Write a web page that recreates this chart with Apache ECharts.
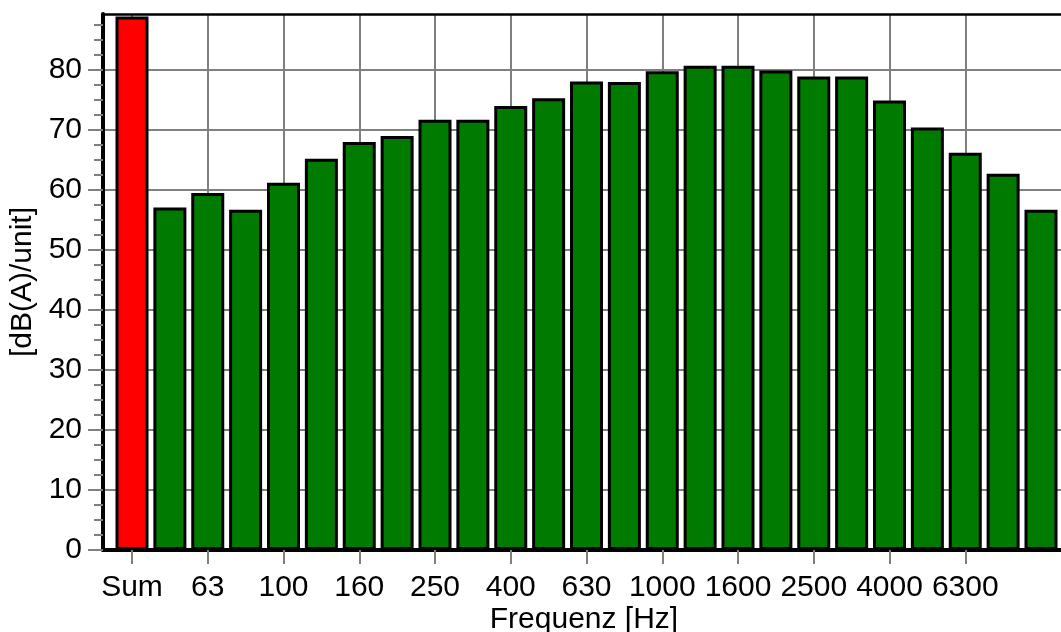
<!DOCTYPE html>
<html>
<head>
<meta charset="utf-8">
<script src="https://cdn.jsdelivr.net/npm/echarts@6/dist/echarts.min.js"></script>
<style>
html,body{margin:0;padding:0;background:#fff;}
#chart{width:1061px;height:632px;}
</style>
</head>
<body>
<div id="chart"></div>
<script>
const categories = ['Sum','50','63','80','100','125','160','200','250','315','400','500','630','800','1000','1250','1600','2000','2500','3150','4000','5000','6300','8000','10000'];
const values = [88.9, 57.1, 59.5, 56.7, 61.2, 65.2, 68.0, 69.0, 71.7, 71.7, 74.0, 75.3, 78.1, 78.0, 79.8, 80.7, 80.7, 79.9, 78.9, 78.9, 74.9, 70.4, 66.2, 62.7, 56.7];
const yTickValues = [0, 10, 20, 30, 40, 50, 60, 70, 80];
const yMax = 89.33;
const xAxisTitle = 'Frequenz [Hz]';
const yAxisTitle = '[dB(A)/unit]';

const FONT = "'Liberation Sans', Arial, sans-serif";
const GRID_COLOR = '#7f7f7f';
const showEveryOther = function (i) { return i % 2 === 0 && i < categories.length - 1; };

const chart = echarts.init(document.getElementById('chart'), null, {renderer: 'canvas'});
chart.setOption({
  animation: false,
  backgroundColor: '#ffffff',
  textStyle: {fontFamily: FONT},
  grid: [
    {left: 103, right: -4, top: 14, bottom: 82, containLabel: false, outerBoundsMode: 'none'},
    {left: 132, right: 20, top: 14, bottom: 82, containLabel: false, outerBoundsMode: 'none'}
  ],
  xAxis: [
    {
      gridIndex: 0, type: 'value', min: 0, max: 1, position: 'bottom',
      axisLine: {show: true, lineStyle: {color: '#000', width: 4}},
      axisTick: {show: false}, axisLabel: {show: false}, splitLine: {show: false},
      name: xAxisTitle, nameLocation: 'middle', nameGap: 55,
      nameTextStyle: {fontSize: 30, color: '#000', fontFamily: FONT}
    },
    {
      gridIndex: 0, type: 'value', min: 0, max: 1, position: 'top',
      axisLine: {show: true, lineStyle: {color: '#000', width: 2.5}},
      axisTick: {show: false}, axisLabel: {show: false}, splitLine: {show: false}
    },
    {
      gridIndex: 1, type: 'category', data: categories, boundaryGap: false, position: 'bottom',
      axisLine: {show: false},
      axisTick: {show: true, interval: showEveryOther, length: 14, lineStyle: {color: GRID_COLOR, width: 2}},
      axisLabel: {show: true, interval: showEveryOther, fontSize: 30, color: '#000', fontFamily: FONT, margin: 23, hideOverlap: false},
      splitLine: {show: true, interval: showEveryOther, lineStyle: {color: GRID_COLOR, width: 2}}
    }
  ],
  yAxis: [
    {
      gridIndex: 0, type: 'value', min: 0, max: yMax, interval: 10,
      axisLine: {show: true, lineStyle: {color: '#000', width: 4}},
      axisTick: {show: true, length: 15, customValues: yTickValues, lineStyle: {color: GRID_COLOR, width: 2}},
      minorTick: {show: true, splitNumber: 4, length: 9, lineStyle: {color: GRID_COLOR, width: 2}},
      axisLabel: {show: true, customValues: yTickValues, fontSize: 30, color: '#000', fontFamily: FONT, margin: 21},
      splitLine: {show: true, lineStyle: {color: GRID_COLOR, width: 2}},
      name: yAxisTitle, nameLocation: 'middle', nameGap: 60,
      nameTextStyle: {fontSize: 30, color: '#000', fontFamily: FONT}
    },
    {
      gridIndex: 1, type: 'value', min: 0, max: yMax, show: false
    }
  ],
  series: [{
    type: 'bar',
    xAxisIndex: 2, yAxisIndex: 1,
    data: values,
    barWidth: 33,
    clip: false,
    itemStyle: {
      color: function (p) { return p.dataIndex === 0 ? '#ff0000' : '#007b00'; },
      borderColor: '#000', borderWidth: 3
    }
  }]
});
</script>
</body>
</html>
